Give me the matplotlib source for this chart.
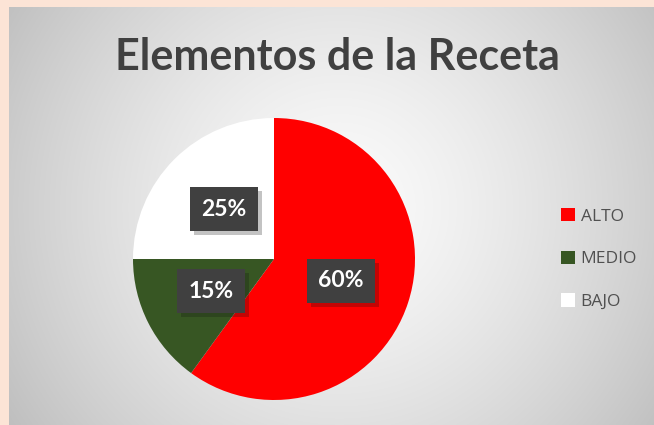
import numpy as np
import matplotlib
matplotlib.use("Agg")
import matplotlib.pyplot as plt
from matplotlib import patheffects as pe

categories = ["ALTO", "MEDIO", "BAJO"]
shares = [60, 15, 25]
colors = ["#ff0000", "#375623", "#ffffff"]
title = "Elementos de la Receta"

W, H = 654, 425
fig = plt.figure(figsize=(W / 100, H / 100), dpi=100)
fig.patch.set_facecolor("#fce4d6")

# radial grey gradient in the chart area
bg = fig.add_axes([9 / W, 0, (W - 9) / W, (H - 7) / H])
yy, xx = np.mgrid[0:H - 7, 0:W - 9]
d = np.hypot(xx - 330, yy - 200) / 385
shade = np.clip(251 - 58 * d ** 1.4, 0, 255) / 255
bg.imshow(np.dstack([shade] * 3), aspect="auto", extent=[0, 1, 0, 1])
bg.set_axis_off()

# pie
cx, cy, r = 274, 259, 141
ax = fig.add_axes([(cx - r) / W, (H - cy - r) / H, 2 * r / W, 2 * r / H])
wedges, texts, autotexts = ax.pie(
    shares, colors=colors, startangle=90, counterclock=False,
    autopct="%d%%", pctdistance=0.5,
    textprops=dict(color="white", fontsize=16.5, fontweight="bold", family="Lato"),
)
for t in autotexts:
    t.set_bbox(dict(boxstyle="square,pad=0.5", fc="#404040", ec="none"))
    t.get_bbox_patch().set_path_effects(
        [pe.SimplePatchShadow(offset=(3, -3), alpha=0.25), pe.Normal()])
ax.set_xlim(-1, 1)
ax.set_ylim(-1, 1)
ax.set_axis_off()

fig.text(337 / W, 1 - 57 / H, title, ha="center", va="center",
         fontsize=31, fontweight="bold", color="#404040", family="Lato")

fig.legend(wedges, categories, loc="center left",
           bbox_to_anchor=(545 / W, 1 - 259 / H), frameon=False,
           labelcolor="#505050", labelspacing=1.5,
           handlelength=0.8, handleheight=0.8, handletextpad=0.35,
           prop=dict(family="Open Sans", size=12.5))

fig.savefig("out.png", dpi=100)
